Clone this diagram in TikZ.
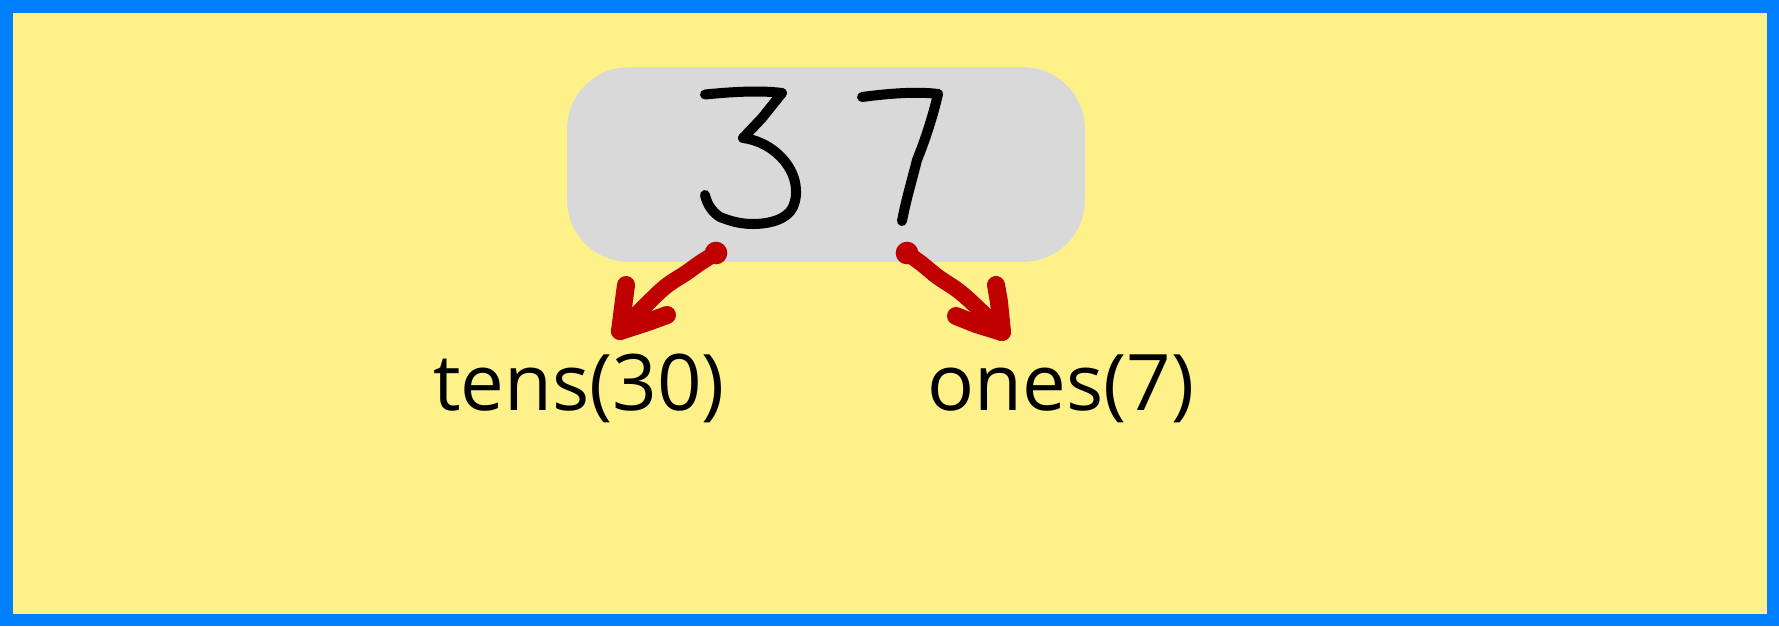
\documentclass[tikz,border=0pt]{standalone}
\usepackage{fontspec}
\setmainfont{Open Sans}
\begin{document}
\begin{tikzpicture}[x=0.75pt,y=-0.75pt,
  digit/.style={line width=7.5pt,line cap=round,line join=round,black},
  redarrow/.style={line width=12pt,line cap=round,line join=round,draw=arrred},
  redhead/.style={line width=13.5pt,line cap=round,line join=round,draw=arrred},
  label/.style={font=\fontsize{58.5}{70}\selectfont,anchor=base,inner sep=0pt}]
\definecolor{bgyellow}{RGB}{255,241,137}
\definecolor{bordblue}{RGB}{0,128,255}
\definecolor{boxgray}{RGB}{217,217,217}
\definecolor{arrred}{RGB}{192,0,0}
\useasboundingbox (0,0) rectangle (1779,626);
\fill[bordblue] (0,0) rectangle (1779,626);
\fill[bgyellow] (12.5,12.5) rectangle (1766.5,613.5);
\node[fill=boxgray,rounded corners=46.5pt,minimum width=388.5pt,minimum height=146pt,inner sep=0pt] (box) at (826,164.5) {};
% digit 3
\draw[digit] (705,94.5) .. controls (730,92) and (760,90) .. (782,93);
\draw[digit] (782,93) -- (762,118) -- (743,138)
  .. controls (768,141) and (790,160) .. (795,182)
  .. controls (797,192) and (796,200) .. (793,207)
  .. controls (787,220) and (768,224) .. (753,224)
  .. controls (738,224) and (728,220) .. (720,217)
  .. controls (712,212) and (707,204) .. (705,195);
% digit 7
\draw[digit] (862,97) .. controls (885,94) and (915,91) .. (938,94);
\draw[digit] (938,94) .. controls (934,112) and (926,138) .. (917,160)
  .. controls (912,180) and (906,200) .. (902,221);
% labels
\node[label] (tens) at (579,410) {tens(30)};
\node[label] (ones) at (1061,410) {ones(7)};
% left arrow
\coordinate (ls) at (716,253);
\coordinate (lt) at (620,331);
\fill[arrred] (ls) circle (8.5pt);
\draw[redarrow] plot[smooth,tension=0.6] coordinates {(ls) (700,263) (686,273) (665,287) (642,309) (lt)};
\draw[redhead] (lt) -- (624,300) -- (626,285);
\draw[redhead] (lt) -- (648,322) -- (667,315);
% right arrow
\coordinate (rs) at (907,253);
\coordinate (rt) at (1002,332);
\fill[arrred] (rs) circle (8.5pt);
\draw[redarrow] plot[smooth,tension=0.6] coordinates {(rs) (922,264) (938,277) (960,292) (982,312) (rt)};
\draw[redhead] (rt) -- (999,302) -- (996,285);
\draw[redhead] (rt) -- (976,324) -- (956,316);
\end{tikzpicture}
\end{document}
